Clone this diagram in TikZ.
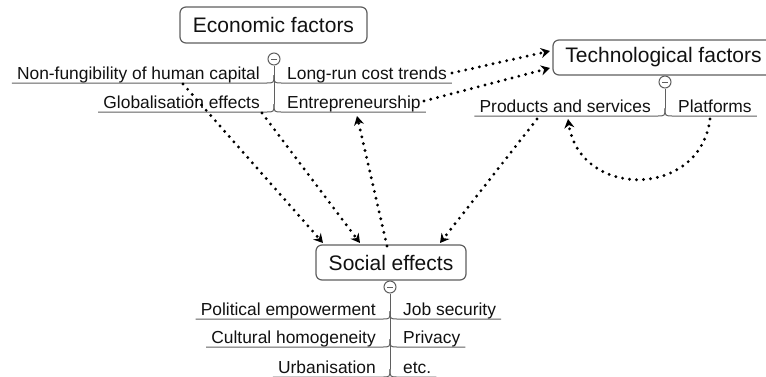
\documentclass[tikz,border=0pt]{standalone}
\usepackage{fontspec}
\setmainfont{Liberation Sans}
\usetikzlibrary{arrows.meta}
\definecolor{linegray}{RGB}{95,95,95}
\definecolor{inkblack}{RGB}{17,17,17}

% left-hand branch: name, stem x, underline y, text
\newcommand\lbranch[4]{%
  \node[lbl, anchor=base east] (#1) at (#2-14,#3-4) {#4};
  \draw[uline] ([shift={(-5pt,-4pt)}]#1.base west) -- (#2-8,#3) .. controls (#2,#3) .. (#2,#3-8);}
% right-hand branch: name, stem x, underline y, text
\newcommand\rbranch[4]{%
  \node[lbl, anchor=base west] (#1) at (#2+13,#3-4) {#4};
  \draw[uline] ([shift={(5pt,-4pt)}]#1.base east) -- (#2+8,#3) .. controls (#2,#3) .. (#2,#3-8);}
% collapse toggle with a minus sign
\newcommand\toggleat[3]{%
  \node[toggle] (#1) at (#2,#3) {};
  \draw[linegray, line width=1pt] ([xshift=-3pt]#1.center) -- ([xshift=3pt]#1.center);}

\begin{document}
\begin{tikzpicture}[x=1pt,y=-1pt,
  box/.style={draw=linegray, line width=1.2pt, rounded corners=6pt, fill=white,
    inner sep=0pt, text=inkblack, font=\fontsize{21}{24}\selectfont},
  lbl/.style={inner sep=0pt, text=inkblack, font=\fontsize{17.4}{20}\selectfont},
  uline/.style={draw=linegray, line width=1pt},
  toggle/.style={circle, draw=linegray, line width=1pt, fill=white, minimum size=12pt, inner sep=0pt},
  darrow/.style={draw=black, line width=3.2pt, line cap=round, dash pattern=on 0pt off 7pt,
    -{Stealth[length=9pt,width=10pt]}},
]
\useasboundingbox (0,0) rectangle (766,376);

% ---- Economic factors ----
\node[box, minimum width=187pt, minimum height=36pt] (econ) at (273.5,25) {Economic factors};
\toggleat{econ-t}{274}{59}
\draw[uline] (econ-t.south) -- (274,104);
\lbranch{nonfung}{274}{83}{Non-fungibility of human capital}
\rbranch{longrun}{274}{83}{Long-run cost trends}
\lbranch{global}{274}{112}{Globalisation effects}
\rbranch{entre}{274}{112}{Entrepreneurship}

% ---- Technological factors ----
\node[box, minimum width=221pt, minimum height=35pt] (tech) at (663.5,57.5) {Technological factors};
\toggleat{tech-t}{665}{82}
\draw[uline] (tech-t.south) -- (665,108);
\lbranch{prod}{665}{116}{Products and services}
\rbranch{platf}{665}{116}{Platforms}

% ---- Social effects ----
\node[box, minimum width=150pt, minimum height=35pt] (social) at (391,262.5) {Social effects};
\toggleat{social-t}{390}{287}
\draw[uline] (social-t.south) -- (390,369);
\lbranch{polit}{390}{319}{Political empowerment}
\rbranch{jobsec}{390}{319}{Job security}
\lbranch{cultur}{390}{347}{Cultural homogeneity}
\rbranch{privacy}{390}{347}{Privacy}
\lbranch{urban}{390}{377}{Urbanisation}
\rbranch{etc}{390}{377}{etc.}

% ---- connector end points ----
\coordinate (nf-src) at (183,84);
\coordinate (gl-src) at (262,113);
\coordinate (en-tip) at (357,116);
\coordinate (lr-src) at (452,73);
\coordinate (en-src) at (424,101);
\coordinate (tf-in1) at (550,51);
\coordinate (tf-in2) at (550,68);
\coordinate (ps-src) at (537,119);
\coordinate (ps-tip) at (568,119);
\coordinate (pf-src) at (710,119);
\coordinate (se-in1) at (323,243);
\coordinate (se-in2) at (360,243);
\coordinate (se-out) at (387,246);
\coordinate (se-in3) at (440,243);

% ---- dotted influence arrows ----
\draw[darrow] (nf-src) -- (se-in1);
\draw[darrow] (gl-src) -- (se-in2);
\draw[darrow] (se-out) -- (en-tip);
\draw[darrow] (ps-src) -- (se-in3);
\draw[darrow] (lr-src) -- (tf-in1);
\draw[darrow] (en-src) -- (tf-in2);
\draw[darrow] (pf-src) .. controls (700,199) and (580,199) .. (ps-tip);
\end{tikzpicture}
\end{document}
